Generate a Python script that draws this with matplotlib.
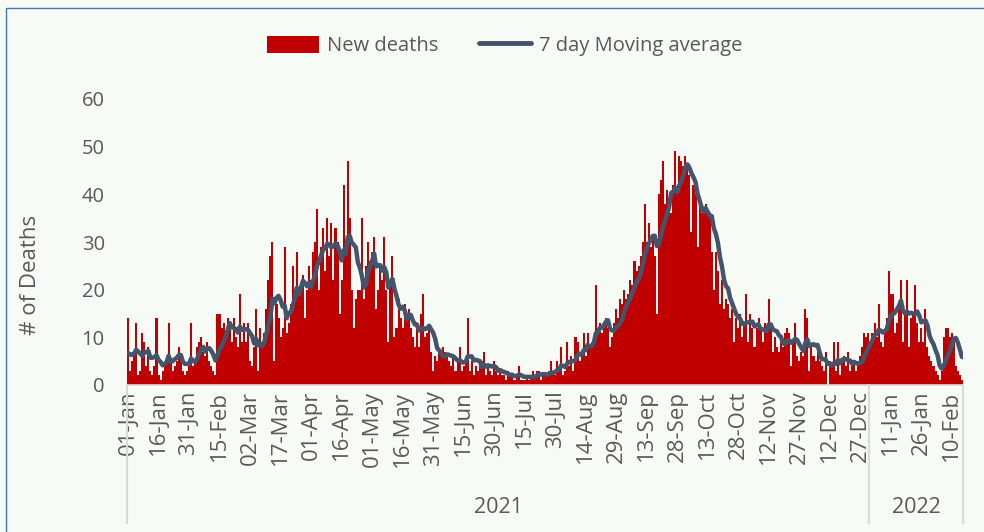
import numpy as np
import pandas as pd
import matplotlib
matplotlib.use("Agg")
import matplotlib.pyplot as plt
from matplotlib.patches import Patch, Rectangle
from matplotlib.lines import Line2D

plt.rcParams["font.family"] = ["Open Sans", "DejaVu Sans"]

# Daily new deaths (01-Jan-2021 .. 15-Feb-2022)
jan21 = [14, 3, 5, 6, 13, 2, 3, 11, 9, 4, 8, 3, 2, 4, 14, 2, 1, 3, 4, 6,
         13, 5, 3, 4, 5, 8, 6, 3, 2, 3, 4]
feb21 = [13, 4, 5, 8, 9, 10, 7, 6, 9, 5, 4, 3, 2, 15, 15, 12, 13, 10, 14, 12,
         9, 14, 10, 8, 19, 9, 13, 9]
mar21 = [13, 5, 4, 8, 16, 3, 12, 9, 11, 16, 22, 27, 30, 5, 17, 14, 10, 12, 29, 11,
         13, 17, 25, 20, 28, 19, 21, 23, 14, 20, 25]
apr21 = [22, 28, 30, 37, 20, 29, 33, 24, 35, 27, 34, 22, 33, 30, 15, 22, 42, 28, 47, 35,
         20, 12, 18, 20, 20, 35, 18, 25, 30, 26]
may21 = [28, 31, 16, 20, 25, 22, 31, 20, 9, 22, 27, 10, 12, 18, 14, 12, 17, 14, 16, 12,
         10, 8, 12, 8, 15, 19, 10, 11, 12, 7, 3]
jun21 = [6, 5, 7, 6, 8, 7, 6, 5, 4, 6, 3, 5, 8, 3, 4, 5, 14, 3, 5, 2,
         4, 3, 4, 5, 7, 2, 4, 3, 2, 5]
jul21 = [3, 2, 3, 2, 2, 1, 3, 2, 2, 1, 2, 4, 1, 1, 1, 2, 1, 2, 3, 2,
         3, 3, 1, 2, 2, 2, 3, 5, 3, 2, 5]
aug21 = [3, 8, 2, 3, 9, 4, 6, 3, 10, 9, 5, 7, 11, 6, 11, 8, 9, 10, 21, 12,
         13, 11, 12, 14, 12, 8, 10, 13, 16, 14, 18]
sep21 = [17, 20, 18, 19, 22, 21, 26, 24, 25, 27, 30, 38, 30, 34, 29, 31, 27, 15, 40, 43,
         47, 38, 41, 37, 36, 42, 49, 40, 48, 47]
oct21 = [46, 48, 46, 44, 32, 42, 40, 29, 38, 36, 37, 38, 36, 35, 28, 20, 28, 24, 17, 22,
         16, 18, 17, 14, 16, 9, 14, 12, 15, 10, 13]
nov21 = [19, 9, 15, 12, 8, 12, 14, 12, 9, 13, 11, 18, 12, 7, 10, 8, 7, 9, 8, 11,
         12, 11, 4, 9, 13, 6, 5, 7, 6, 16]
dec21 = [14, 3, 8, 6, 5, 7, 5, 4, 3, 7, 0, 5, 4, 9, 3, 9, 2, 5, 6, 4,
         7, 3, 4, 5, 3, 5, 6, 8, 11, 10, 11]
jan22 = [9, 11, 13, 10, 17, 9, 8, 11, 14, 24, 19, 19, 11, 13, 16, 22, 9, 15, 22, 8,
         14, 15, 21, 13, 9, 12, 9, 16, 8, 6, 5]
feb22 = [4, 3, 2, 1, 3, 10, 12, 12, 10, 11, 10, 4, 3, 2, 1]
# last days of Dec-2020 (not drawn), estimated from where the average line starts
dec20_tail = [5, 6, 4, 7, 5, 6]

start_date = "2021-01-01"
label_every = 15
y_ticks = [0, 10, 20, 30, 40, 50, 60]

deaths = np.array(jan21 + feb21 + mar21 + apr21 + may21 + jun21 + jul21 + aug21
                  + sep21 + oct21 + nov21 + dec21 + jan22 + feb22)
dates = pd.date_range(start_date, periods=len(deaths), freq="D")
ma7 = pd.Series(dec20_tail + list(deaths)).rolling(7, min_periods=1).mean()
ma7 = ma7.iloc[len(dec20_tail):].to_numpy()

BG = "#F6FBF6"
RED = "#C00000"
SLATE = "#44546A"
GREY = "#595959"
AXIS = "#D9D9D9"

W, H = 984, 532
fig = plt.figure(figsize=(W / 100, H / 100), dpi=100, facecolor=BG)
ax = fig.add_axes([127 / W, 1 - 385 / H, (963 - 127) / W, (385 - 99) / H])
ax.set_facecolor(BG)

x = np.arange(len(deaths))
ax.bar(x, deaths, width=1.0, color=RED, linewidth=0)
ax.plot(x, ma7, color=SLATE, lw=3.2, solid_capstyle="round", solid_joinstyle="round")

ax.set_xlim(-0.5, len(deaths) - 0.5)
ax.set_ylim(y_ticks[0], y_ticks[-1])
ax.set_yticks(y_ticks)
ax.tick_params(axis="y", length=0, labelsize=14.5, labelcolor=GREY, pad=16)

ticks = x[::label_every]
ax.set_xticks(ticks)
ax.set_xticklabels([dates[i].strftime("%d-%b") for i in ticks], rotation=90)
ax.tick_params(axis="x", length=0, labelsize=16, labelcolor=GREY, pad=4)

for s in ["top", "right", "left"]:
    ax.spines[s].set_visible(False)
ax.spines["bottom"].set_color(AXIS)
ax.spines["bottom"].set_linewidth(1.2)

# year grouping under the day labels
trans = ax.get_xaxis_transform()
n2021 = int((dates.year == 2021).sum())
for xb in [-0.5, n2021 - 0.5, len(deaths) - 0.5]:
    ax.plot([xb, xb], [0, -0.483], color=AXIS, lw=1.5, transform=trans, clip_on=False)
ax.text((n2021 - 1) / 2, -0.43, "2021", transform=trans, ha="center", va="center",
        fontsize=15.5, color=GREY)
ax.text((n2021 + len(deaths) - 1) / 2, -0.43, "2022", transform=trans, ha="center",
        va="center", fontsize=15.5, color=GREY)

fig.text(30 / W, 1 - 275 / H, "# of Deaths", rotation=90, ha="center", va="center",
         fontsize=16, color=GREY)

handles = [Patch(facecolor=RED, label="New deaths"),
           Line2D([0], [0], color=SLATE, lw=3.5, solid_capstyle="round",
                  label="7 day Moving average")]
fig.legend(handles=handles, loc="center", bbox_to_anchor=(0.513, 1 - 46 / H), ncol=2,
           frameon=False, fontsize=14.5, labelcolor=GREY, handlelength=2.6,
           handleheight=0.9, columnspacing=2.0, handletextpad=0.4)

fig.patches.append(Rectangle((6 / W, -0.05), 1.2, 1.05 - 8 / H, transform=fig.transFigure,
                             fill=False, edgecolor="#4472C4", lw=1))

fig.savefig("out.png", dpi=100, facecolor=BG)
